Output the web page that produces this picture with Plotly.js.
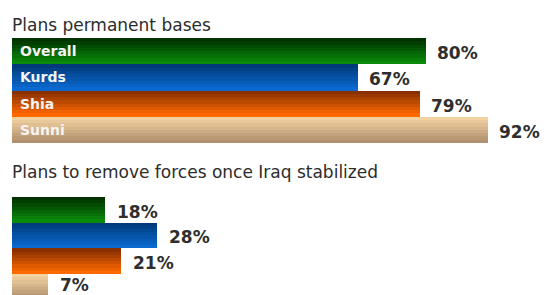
<!DOCTYPE html>
<html><head><meta charset="utf-8">
<script src="https://cdn.plot.ly/plotly-3.0.1.min.js"></script>
<style>html,body{margin:0;padding:0;background:#fff;overflow:hidden;}#chart{width:550px;height:295px;}</style>
</head><body><div id="chart"></div>
<script>
// ---- data ----
const categories = ["Overall", "Kurds", "Shia", "Sunni"];
const permanentBases = [80, 67, 79, 92];
const removeForces = [18, 28, 21, 7];
const titleTop = "Plans permanent bases";
const titleBottom = "Plans to remove forces once Iraq stabilized";

// ---- style ----
const darkEdge = ["#003300", "#003a7a", "#8a3000", "#f3d2a2"];
const lightEdge = ["#0a8a0a", "#0a6ad0", "#ff6a00", "#b0906e"];
const N = 8;

function hexToRgb(h){h=h.replace('#','');return [parseInt(h.substr(0,2),16),parseInt(h.substr(2,2),16),parseInt(h.substr(4,2),16)];}
function mix(a,b,t){const A=hexToRgb(a),B=hexToRgb(b);return 'rgb('+A.map((v,i)=>Math.round(v+(B[i]-v)*t)).join(',')+')';}

const traces = [];
const panels = [
  {vals: permanentBases, xa: 'x', ya: 'y'},
  {vals: removeForces, xa: 'x2', ya: 'y2'}
];
panels.forEach(p => {
  for (let k = 0; k < N; k++) {
    const t = k / (N - 1);
    traces.push({
      type: 'bar', orientation: 'h',
      x: p.vals, y: categories,
      xaxis: p.xa, yaxis: p.ya,
      offset: -0.5 + k / N, width: 1 / N + 0.002,
      marker: {color: categories.map((c, i) => mix(darkEdge[i], lightEdge[i], t)), line: {width: 0}},
      hoverinfo: 'skip', showlegend: false
    });
  }
});

const annotations = [];
const pctFont = {family: 'DejaVu Sans', size: 17, color: '#2e2e2e', weight: 'bold'};
permanentBases.forEach((v, i) => annotations.push({
  x: v, y: categories[i], xref: 'x', yref: 'y', text: v + '%', showarrow: false,
  xanchor: 'left', yanchor: 'middle', xshift: 9, yshift: -2, font: pctFont
}));
removeForces.forEach((v, i) => annotations.push({
  x: v, y: categories[i], xref: 'x2', yref: 'y2', text: v + '%', showarrow: false,
  xanchor: 'left', yanchor: 'middle', xshift: 10, yshift: i === 3 ? 2 : -2, font: pctFont
}));
categories.forEach((c, i) => annotations.push({
  x: 0, y: c, xref: 'x', yref: 'y', text: c, showarrow: false,
  xanchor: 'left', yanchor: 'middle', xshift: 6, yshift: 0,
  font: {family: 'DejaVu Sans', size: 14, color: '#f4f4f4', weight: 'bold'}
}));
const titleFont = {family: 'DejaVu Sans', size: 17, color: '#2c2c2c'};
annotations.push({x: 0, y: (295 - 25) / 295, xref: 'paper', yref: 'paper', text: titleTop,
  showarrow: false, xanchor: 'left', yanchor: 'middle', xshift: -2, font: titleFont});
annotations.push({x: 0, y: (295 - 172) / 295, xref: 'paper', yref: 'paper', text: titleBottom,
  showarrow: false, xanchor: 'left', yanchor: 'middle', xshift: -2, font: titleFont});

const hiddenX = {range: [0, 100], visible: false, fixedrange: true};
const layout = {
  width: 550, height: 295,
  margin: {l: 12, r: 21, t: 0, b: 0},
  paper_bgcolor: '#ffffff', plot_bgcolor: 'rgba(0,0,0,0)',
  barmode: 'overlay', bargap: 0,
  xaxis: Object.assign({}, hiddenX, {anchor: 'y'}),
  xaxis2: Object.assign({}, hiddenX, {anchor: 'y2'}),
  yaxis: {type: 'category', range: [3.5, -0.5], domain: [(295 - 143) / 295, (295 - 38) / 295], visible: false, anchor: 'x'},
  yaxis2: {type: 'category', range: [3.32, -0.5], domain: [0, (295 - 197) / 295], visible: false, anchor: 'x2'},
  annotations: annotations,
  font: {family: 'DejaVu Sans'}
};
Plotly.newPlot('chart', traces, layout, {displayModeBar: false, staticPlot: true});
</script>
</body></html>
